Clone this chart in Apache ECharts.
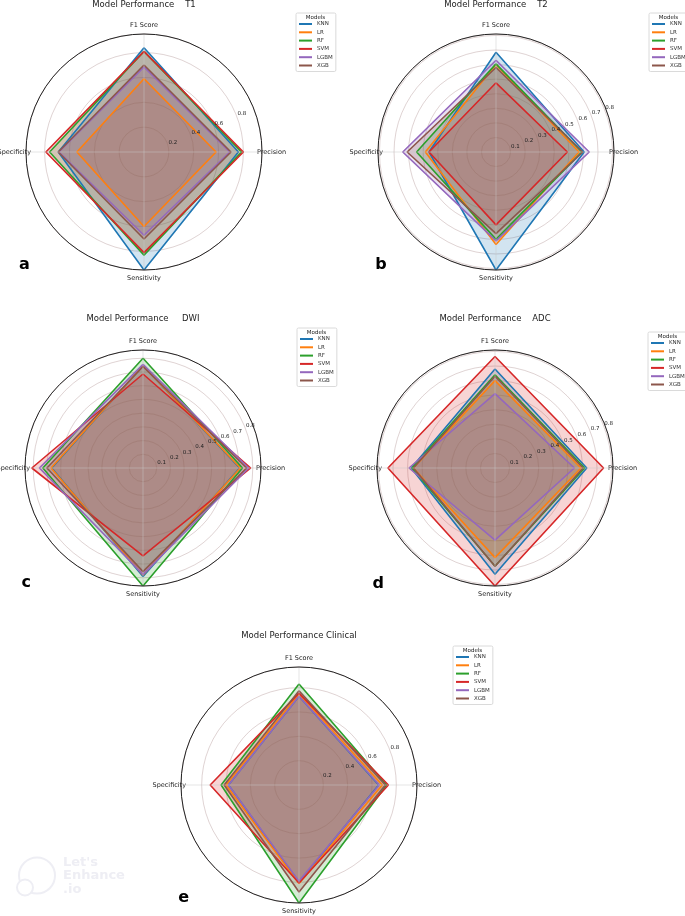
<!DOCTYPE html>
<html>
<head>
<meta charset="utf-8">
<title>Model Performance radar</title>
<script src="https://cdn.jsdelivr.net/npm/echarts@6/dist/echarts.min.js"></script>
<style>
  html, body { margin: 0; padding: 0; background: #fff; }
  #main { width: 685px; height: 916px; }
</style>
</head>
<body>
<div id="main"></div>
<script>
// axes of every radar, clockwise from the top
var axisNames = ['F1 Score', 'Precision', 'Sensitivity', 'Specificity'];
var models = ['KNN', 'LR', 'RF', 'SVM', 'LGBM', 'XGB'];

// one row per model: F1, Precision, Sensitivity, Specificity
var t1Values = [
    [0.84, 0.76, 0.95, 0.69],
    [0.59, 0.58, 0.60, 0.54],
    [0.81, 0.785, 0.83, 0.76],
    [0.81, 0.80, 0.81, 0.79],
    [0.685, 0.69, 0.67, 0.685],
    [0.70, 0.70, 0.70, 0.69]
];
var t2Values = [
    [0.685, 0.605, 0.81, 0.46],
    [0.60, 0.57, 0.635, 0.485],
    [0.605, 0.59, 0.60, 0.545],
    [0.475, 0.49, 0.50, 0.46],
    [0.63, 0.64, 0.61, 0.64],
    [0.58, 0.595, 0.56, 0.61]
];
var dwiValues = [
    [0.745, 0.705, 0.79, 0.665],
    [0.745, 0.71, 0.78, 0.67],
    [0.80, 0.725, 0.86, 0.73],
    [0.685, 0.785, 0.64, 0.81],
    [0.755, 0.77, 0.775, 0.755],
    [0.74, 0.755, 0.755, 0.70]
];
var adcValues = [
    [0.68, 0.63, 0.73, 0.575],
    [0.60, 0.59, 0.615, 0.56],
    [0.64, 0.615, 0.675, 0.57],
    [0.765, 0.745, 0.81, 0.735],
    [0.51, 0.545, 0.495, 0.59],
    [0.63, 0.605, 0.675, 0.56]
];
var clinicalValues = [
    [0.73, 0.655, 0.80, 0.58],
    [0.75, 0.685, 0.81, 0.60],
    [0.83, 0.72, 0.97, 0.64],
    [0.755, 0.735, 0.805, 0.73],
    [0.73, 0.66, 0.79, 0.58],
    [0.775, 0.71, 0.88, 0.615]
];

// radial tick labels
var ticks02 = [0.2, 0.4, 0.6, 0.8];
var ticks01 = [0.1, 0.2, 0.3, 0.4, 0.5, 0.6, 0.7, 0.8];

var panelTitles = ['Model Performance    T1', 'Model Performance    T2', 'Model Performance     DWI',
    'Model Performance    ADC', 'Model Performance Clinical'];
var panelLetters = ['a', 'b', 'c', 'd', 'e'];

// matplotlib tab10
var colors = ['#1f77b4', '#ff7f0e', '#2ca02c', '#d62728', '#9467bd', '#8c564b'];

// layout of the five panels
var R = 118;
var panels = [
    { values: t1Values, ticks: ticks02, step: 0.2, center: [144, 152], titleY: 0, legend: [296, 13], letter: [24.5, 257] },
    { values: t2Values, ticks: ticks01, step: 0.1, center: [496, 152], titleY: 0, legend: [649, 13], letter: [381, 257] },
    { values: dwiValues, ticks: ticks01, step: 0.1, center: [143, 468], titleY: 314, legend: [297, 328], letter: [26.3, 575] },
    { values: adcValues, ticks: ticks01, step: 0.1, center: [495, 468], titleY: 314, legend: [648, 332], letter: [378.3, 576] },
    { values: clinicalValues, ticks: ticks02, step: 0.2, center: [299, 785], titleY: 631, legend: [453, 646], letter: [183.7, 890] }
];

var font = 'DejaVu Sans';
var chart = echarts.init(document.getElementById('main'));
var option = {
    animation: false,
    backgroundColor: '#fff',
    title: [], legend: [], polar: [], angleAxis: [], radiusAxis: [], series: [],
    graphic: []
};

panels.forEach(function (p, k) {
    var vals = p.values;
    // like matplotlib: outer ring sits on the biggest value
    var rMax = Math.max.apply(null, vals.map(function (row) { return Math.max.apply(null, row); }));
    var pi = k * 2;
    var tickList = p.ticks;

    option.title.push({
        text: panelTitles[k], left: p.center[0], top: p.titleY, textAlign: 'center', padding: 0,
        textStyle: { fontSize: 8.5, fontWeight: 'normal', color: '#222', fontFamily: font }
    });
    option.title.push({
        text: panelLetters[k], left: p.letter[0], top: p.letter[1], textAlign: 'center', padding: 0,
        textStyle: { fontSize: 16, fontWeight: 'bold', color: '#000', fontFamily: font }
    });
    option.title.push({
        text: 'Models', left: p.legend[0] + 19.5, top: p.legend[1] + 1.5, textAlign: 'center', padding: 0,
        textStyle: { fontSize: 5.5, fontWeight: 'normal', color: '#222', fontFamily: font }
    });

    option.legend.push({
        data: models, orient: 'vertical', left: p.legend[0], top: p.legend[1],
        padding: [8, 3, 3, 3], itemWidth: 13, itemHeight: 2, itemGap: 2.3, icon: 'rect',
        borderColor: '#d0d0d0', borderWidth: 0.8, borderRadius: 1.5, selectedMode: false,
        textStyle: { fontSize: 5.5, lineHeight: 6, color: '#333', fontFamily: font }
    });

    // polar for data, grid and axis names
    option.polar.push({ center: p.center, radius: [0, R] });
    // second polar only carries the radial tick labels at 22.5 deg
    option.polar.push({ center: p.center, radius: [0, R] });

    option.angleAxis.push({
        polarIndex: pi, type: 'value', min: 0, max: 360, interval: 90, startAngle: 90, clockwise: true, z: 3,
        axisLine: { lineStyle: { color: '#222', width: 1 } },
        axisTick: { show: false },
        splitLine: { lineStyle: { color: 'rgba(200,200,200,0.6)', width: 0.8 } },
        axisLabel: {
            margin: -5, fontSize: 6.5, color: '#222', fontFamily: font,
            formatter: function (v) {
                var i = Math.round(v / 90);
                if (i >= axisNames.length) return '';
                if (i === 0) return '{top|' + axisNames[i] + '}';
                if (i === 2) return '{bot|' + axisNames[i] + '}';
                return axisNames[i];
            },
            rich: {
                top: { padding: [0, 0, 10, 0], fontSize: 6.5, color: '#222', fontFamily: font },
                bot: { padding: [10, 0, 0, 0], fontSize: 6.5, color: '#222', fontFamily: font }
            }
        }
    });
    option.angleAxis.push({
        polarIndex: pi + 1, type: 'value', min: 0, max: 360, startAngle: 22.5, show: false
    });

    option.radiusAxis.push({
        polarIndex: pi, type: 'value', min: 0, max: rMax, interval: p.step, z: 1,
        axisLine: { show: false }, axisTick: { show: false }, axisLabel: { show: false },
        splitLine: { lineStyle: { color: 'rgba(120,70,70,0.3)', width: 0.8 } }
    });
    option.radiusAxis.push({
        polarIndex: pi + 1, type: 'value', min: 0, max: rMax, interval: p.step, z: 4,
        axisLine: { show: false }, axisTick: { show: false }, splitLine: { show: false },
        axisLabel: {
            margin: 0, align: 'center', verticalAlign: 'middle', padding: [0, 0, 4.6, 12],
            fontSize: 5.5, color: '#222', fontFamily: font,
            formatter: function (v) {
                for (var t = 0; t < tickList.length; t++) {
                    if (Math.abs(tickList[t] - v) < 1e-6) return tickList[t].toFixed(1);
                }
                return '';
            }
        }
    });

    models.forEach(function (m, i) {
        var d = vals[i].map(function (v, j) { return [v, j * 90]; });
        d.push([vals[i][0], 360]);   // close the polygon
        option.series.push({
            name: m, type: 'line', coordinateSystem: 'polar', polarIndex: pi,
            data: d, symbol: 'none', silent: true, z: 2,
            itemStyle: { color: colors[i] },
            lineStyle: { width: 1.6, color: colors[i] },
            areaStyle: { color: colors[i], opacity: 0.2 }
        });
    });
});

// faint watermark in the lower left corner
option.graphic.push({
    type: 'group', left: 16, top: 855, silent: true,
    children: [
        { type: 'circle', shape: { cx: 20, cy: 20, r: 18 }, style: { fill: 'none', stroke: '#eeeef4', lineWidth: 2 } },
        { type: 'circle', shape: { cx: 8, cy: 32, r: 8 }, style: { fill: '#fff', stroke: '#eeeef4', lineWidth: 2 } },
        { type: 'text', x: 46, y: 0, style: { text: "Let's\nEnhance\n.io", fill: '#eeeef4', font: 'bold 13px "DejaVu Sans"', lineHeight: 13.5 } }
    ]
});

chart.setOption(option);
</script>
</body>
</html>
